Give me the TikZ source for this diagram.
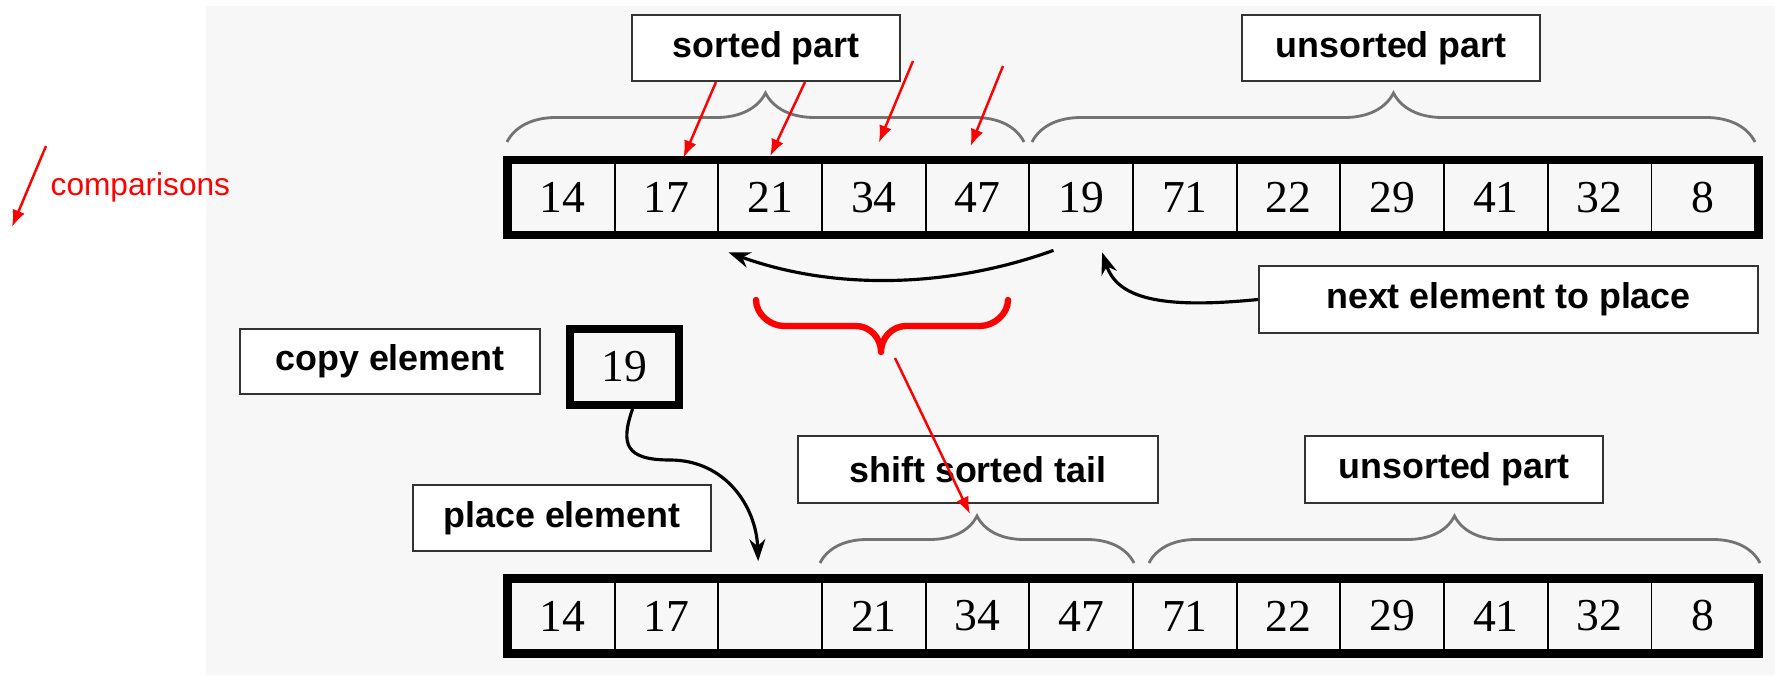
\documentclass[tikz,border=0pt]{standalone}
\usepackage{fontspec}
\setmainfont{Liberation Serif}
\setsansfont{Liberation Sans}
\usetikzlibrary{arrows.meta,decorations.pathreplacing,fit}
\definecolor{paper}{HTML}{F7F7F7}

\begin{document}
\begin{tikzpicture}[
		cell/.style={draw, line width=0.5pt, minimum width=1.0367cm, minimum height=0.68cm, inner sep=0pt, font=\fontsize{13}{15}\selectfont},
		frame/.style={draw, line width=0.07cm, inner sep=0.035cm},
		lbl/.style={draw=black!80, fill=white, line width=0.6pt, minimum height=0.66cm, inner sep=0pt, font=\sffamily\bfseries\fontsize{10.2}{12}\selectfont},
		brc/.style={decorate, decoration={brace, amplitude=#1}, black!55, line width=0.8pt},
		cmp/.style={red, line width=0.7pt, -{Latex[length=1.7mm,width=1.3mm]}},
		mv/.style={line width=0.9pt, -{Stealth[length=2.2mm,width=1.6mm]}}
	]
	\useasboundingbox (0,0) rectangle (17.75,6.75);
	\fill[paper] (2.06,0) rectangle (17.75,6.69);

	% legend
	\coordinate (lga) at (0.46,5.29);
	\coordinate (lgb) at (0.12,4.48);
	\draw[cmp] (lga) -- (lgb);
	\node[anchor=west, inner sep=0pt, red, font=\sffamily\fontsize{9}{11}\selectfont] (lgtxt) at (0.50,4.88) {comparisons};

	% arrays before and after the shift
	\foreach \v [count=\i] in {14,17,21,34,47,19,71,22,29,41,32,8} {
		\node[cell] (t\i) at ({5.11+(\i-0.5)*1.0367},4.775) {\v};
	}
	\foreach \v [count=\i] in {14,17,{},21,34,47,71,22,29,41,32,8} {
		\node[cell] (b\i) at ({5.11+(\i-0.5)*1.0367},0.59) {\v};
	}
	\node[frame, fit=(t1)(t12)] (top) {};
	\node[frame, fit=(b1)(b12)] (bot) {};

	% braces
	\draw[brc=0.49cm] (5.07,5.33) -- (10.24,5.33);
	\draw[brc=0.49cm] (10.32,5.33) -- (17.55,5.33);
	\draw[brc=0.47cm] (8.20,1.12) -- (11.34,1.12);
	\draw[brc=0.47cm] (11.49,1.12) -- (17.60,1.12);
	\draw[red, line width=1.8pt, line cap=round, line join=round] (7.56,3.75) .. controls (7.56,3.61) and (7.70,3.49) .. (7.84,3.49) -- (8.56,3.49)
		.. controls (8.70,3.49) and (8.81,3.37) .. (8.81,3.23) .. controls (8.81,3.37) and (8.92,3.49) .. (9.06,3.49)
		-- (9.80,3.49) .. controls (9.94,3.49) and (10.08,3.61) .. (10.08,3.75);

	% labels
	\node[lbl, minimum width=2.68cm] (sorted) at (7.66,6.27) {sorted part};
	\node[lbl, minimum width=2.98cm] (unsA) at (13.91,6.27) {unsorted part};
	\node[lbl, minimum width=4.99cm, minimum height=0.67cm] (next) at (15.085,3.755) {next element to place};
	\node[lbl, minimum width=3.00cm, minimum height=0.65cm] (copy) at (3.90,3.135) {copy element};
	\node[lbl, minimum width=2.98cm] (place) at (5.62,1.57) {place element};
	\node[lbl, minimum width=3.60cm, minimum height=0.67cm] (shift) at (9.78,2.055) {shift sorted tail};
	\node[lbl, minimum width=2.98cm, minimum height=0.67cm] (unsB) at (14.54,2.055) {unsorted part};

	% copied element
	\node[cell, line width=0.08cm, minimum width=1.09cm, minimum height=0.76cm] (tmp) at (6.245,3.08) {19};

	% moves
	\draw[mv] ([shift={(0.25,-0.18)}]t6.south west) .. controls +(-1.05,-0.38) and +(1.05,-0.38) .. ([shift={(0.11,-0.2)}]t3.south west);
	\draw[mv] (next.west) .. controls +(-1.0,-0.1) and +(0.15,-0.45) .. ([shift={(0.21,-0.2)}]t6.south);
	\draw[mv] ([xshift=0.08cm]tmp.south) .. controls +(-0.12,-0.35) and +(-0.45,0) .. (6.70,2.15)
		.. controls +(0.55,0) and +(-0.02,0.55) .. ([shift={(-0.12,0.2)}]b3.north);

	% comparisons
	\coordinate (c3) at (9.13,6.14);
	\coordinate (c4) at (10.03,6.09);
	\draw[cmp] ([xshift=-0.5cm]sorted.south) -- ([shift={(0.17,0.05)}]t2.north);
	\draw[cmp] ([xshift=0.39cm]sorted.south) -- ([shift={(0,0.065)}]t3.north);
	\draw[cmp] (c3) -- ([shift={(0.05,0.2)}]t4.north);
	\draw[cmp] (c4) -- ([shift={(-0.07,0.165)}]t5.north);
	\coordinate (redtip) at (8.95,3.17);
	\coordinate (tailtip) at (9.70,1.61);
	\draw[cmp] (redtip) -- (tailtip);
\end{tikzpicture}
\end{document}
